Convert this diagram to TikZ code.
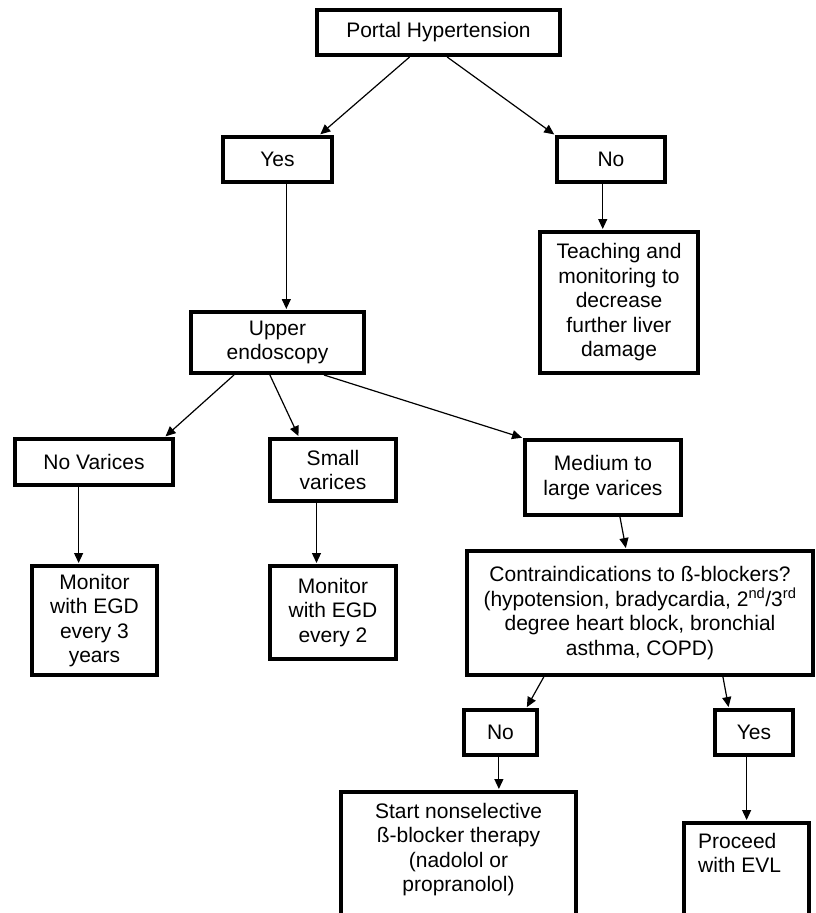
\documentclass[tikz,border=0pt]{standalone}
\usepackage{fontspec}
\setmainfont{Liberation Sans}
\usetikzlibrary{arrows.meta,calc}
\newcommand\fsz{\fontsize{21}{24.5}\selectfont}
\begin{document}
\begin{tikzpicture}[x=1pt,y=-1pt,
 box/.style={draw, line width=4pt, inner sep=0pt, align=center, font=\fsz},
 txt/.style={inner sep=0pt, align=center, font=\fsz},
 conn/.style={-{Triangle[length=10pt,width=9pt]}, line width=1.2pt, shorten >=1pt}]
\useasboundingbox (0,0) rectangle (815,913);
\clip (0,0) rectangle (815,913);
\fill[white] (0,0) rectangle (815,913);

\node[box, minimum width=243, minimum height=45] (ph) at (438.5,32.5) {Portal Hypertension};
\node[box, minimum width=109, minimum height=45] (yes) at (277.5,159.5) {Yes};
\node[box, minimum width=108, minimum height=45] (no) at (611,159.5) {No};
\node[box, minimum width=158, minimum height=141] (teach) at (619,302.5) {Teaching and\\monitoring to\\decrease\\further liver\\damage};
\node[box, minimum width=173, minimum height=61] (upper) at (277.5,342.5) {Upper\\endoscopy};
\node[box, minimum width=158, minimum height=46] (novar) at (94,462) {No Varices};
\node[box, minimum width=126, minimum height=62] (small) at (333,470) {Small\\varices};
\node[box, minimum width=156, minimum height=75] (medium) at (603,477.5) {Medium to\\large varices};
\node[box, minimum width=125, minimum height=109] (mon1) at (94.5,620.5) {Monitor\\with EGD\\every 3\\years};
\node[box, minimum width=126, minimum height=93] (mon2) at (333,612.5) {Monitor\\with EGD\\every 2};
\node[box, minimum width=346, minimum height=124] (contra) at (640,613) {Contraindications to ß-blockers?\\(hypotension, bradycardia, 2\textsuperscript{nd}/3\textsuperscript{rd}\\degree heart block, bronchial\\asthma, COPD)};
\node[box, minimum width=73, minimum height=45] (no2) at (500.5,732.5) {No};
\node[box, minimum width=78, minimum height=45] (yes2) at (754,732.5) {Yes};
\node[box, anchor=north, minimum width=235, minimum height=150] (start) at (458.5,790) {};
\node[txt, anchor=north] (starttxt) at ($(start.north)+(0,13)$) {Start nonselective\\ß-blocker therapy\\(nadolol or\\propranolol)};
\node[box, anchor=north, minimum width=125, minimum height=120] (evl) at (746.5,821) {};
\node[txt, anchor=north west, align=left] (evltxt) at ($(evl.north west)+(16,12)$) {Proceed\\with EVL};

\draw[conn] ($(ph.south west)!0.383!(ph.south east)$) -- ($(yes.north west)!0.872!(yes.north east)$);
\draw[conn] ($(ph.south west)!0.535!(ph.south east)$) -- (no.north west);
\draw[conn] ($(yes.south west)!0.578!(yes.south east)$) coordinate (ya) -- (ya |- upper.north);
\draw[conn] ($(no.south west)!0.426!(no.south east)$) coordinate (na) -- (na |- teach.north);
\draw[conn] ($(upper.south west)!0.254!(upper.south east)$) -- ($(novar.north west)!0.937!(novar.north east)$);
\draw[conn] ($(upper.south west)!0.457!(upper.south east)$) -- ($(small.north west)!0.238!(small.north east)$);
\draw[conn] ($(upper.south west)!0.763!(upper.south east)$) -- (medium.north west);
\draw[conn] ($(novar.south west)!0.405!(novar.south east)$) coordinate (nva) -- (nva |- mon1.north);
\draw[conn] ($(small.south west)!0.373!(small.south east)$) coordinate (sa) -- (sa |- mon2.north);
\draw[conn] ($(medium.south west)!0.606!(medium.south east)$) -- ($(contra.north west)!0.46!(contra.north east)$);
\draw[conn] ($(contra.south west)!0.225!(contra.south east)$) -- ($(no2.north west)!0.836!(no2.north east)$);
\draw[conn] ($(contra.south west)!0.737!(contra.south east)$) -- ($(yes2.north west)!0.192!(yes2.north east)$);
\draw[conn] ($(no2.south west)!0.479!(no2.south east)$) coordinate (n2a) -- (n2a |- start.north);
\draw[conn] ($(yes2.south west)!0.41!(yes2.south east)$) coordinate (y2a) -- (y2a |- evl.north);
\end{tikzpicture}
\end{document}
